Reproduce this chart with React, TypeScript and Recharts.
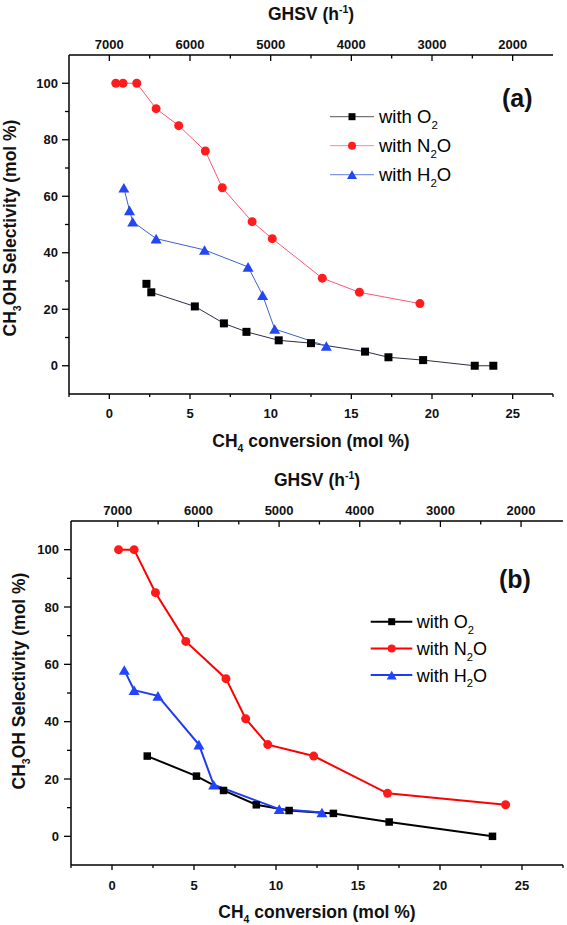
import React from 'react';
import { LineChart, Line, XAxis, YAxis, Legend } from 'recharts';

const FONT = '"Liberation Sans", Arial, Helvetica, sans-serif';

// ---------- Panel (a) data: CH4 conversion (x) vs CH3OH selectivity (y) ----------
const aO2X = [2.3, 2.6, 5.3, 7.1, 8.5, 10.5, 12.5, 15.85, 17.3, 19.45, 22.65, 23.8];
const aO2Y = [29, 26, 21, 15, 12, 9, 8, 5, 3, 2, 0, 0];
const aN2OX = [0.4, 0.85, 1.7, 2.9, 4.3, 5.95, 7.0, 8.85, 10.1, 13.2, 15.5, 19.25];
const aN2OY = [100, 100, 100, 91, 85, 76, 63, 51, 45, 31, 26, 22];
const aH2OX = [0.9, 1.25, 1.45, 2.9, 5.9, 8.6, 9.5, 10.25, 13.45];
const aH2OY = [63, 55, 51, 45, 41, 35, 25, 13, 7];

// ---------- Panel (b) data ----------
const bO2X = [2.15, 5.15, 6.8, 8.8, 10.8, 13.5, 16.9, 23.2];
const bO2Y = [28, 21, 16, 11, 9, 8, 5, 0];
const bN2OX = [0.4, 1.35, 2.65, 4.5, 6.95, 8.15, 9.5, 12.3, 16.8, 24.0];
const bN2OY = [100, 100, 85, 68, 55, 41, 32, 28, 15, 11];
const bH2OX = [0.75, 1.35, 2.8, 5.3, 6.2, 10.2, 12.8];
const bH2OY = [58, 51, 49, 32, 18, 9.5, 8.3];

// ---------- Axis ticks ----------
const convTicks = [-2.5, 0, 2.5, 5, 7.5, 10, 12.5, 15, 17.5, 20, 22.5, 25, 27.5];
const convLabels = [0, 5, 10, 15, 20, 25];
const selTicks = [0, 10, 20, 30, 40, 50, 60, 70, 80, 90, 100];
const selLabels = [0, 20, 40, 60, 80, 100];
const ghsvTicks = [2000, 2500, 3000, 3500, 4000, 4500, 5000, 5500, 6000, 6500, 7000];
const ghsvLabels = [2000, 3000, 4000, 5000, 6000, 7000];
const frameTicks = [1, 2, 3, 4, 5, 6, 7, 8, 9];

// legend labels: [before subscript, subscript, after]
const legendLabels: [string, string, string][] = [
  ['with O', '2', ''],
  ['with N', '2', 'O'],
  ['with H', '2', 'O'],
];

const zip = (xs: number[], ys: number[]) => xs.map((x, i) => ({ x, y: ys[i] }));
// invisible anchor so the top (GHSV) and right frame axes get a scale
const frameAnchor = ghsvTicks.map((g) => ({ x: g, y: 5 }));

type Shape = 'square' | 'circle' | 'triangle';

function marker(shape: Shape, cx: number, cy: number, size: number, fill: string, key?: string) {
  if (cx == null || cy == null || isNaN(cx) || isNaN(cy)) return <g key={key} />;
  if (shape === 'square')
    return <rect key={key} x={cx - size / 2} y={cy - size / 2} width={size} height={size} fill={fill} />;
  if (shape === 'circle') return <circle key={key} cx={cx} cy={cy} r={size / 2} fill={fill} />;
  const h = size * 0.87;
  return (
    <polygon
      key={key}
      points={`${cx},${cy - h / 2} ${cx - size / 2},${cy + h / 2} ${cx + size / 2},${cy + h / 2}`}
      fill={fill}
    />
  );
}

type Side = 'left' | 'right' | 'top' | 'bottom';

function tickRenderer(
  side: Side,
  labels: number[],
  major: number,
  minor: number,
  inward: boolean,
  gap: number,
  fontSize: number
) {
  return (props: any) => {
    const { x, y, payload, index } = props;
    const v = payload.value;
    const isMajor = labels.indexOf(v) >= 0;
    const len = isMajor ? major : minor;
    const d =
      side === 'left' ? [-1, 0] : side === 'right' ? [1, 0] : side === 'top' ? [0, -1] : [0, 1];
    const s = inward ? -1 : 1;
    const x2 = x + d[0] * s * len;
    const y2 = y + d[1] * s * len;
    let label = null;
    if (isMajor) {
      const off = (inward ? 0 : major) + gap;
      const tx = x + d[0] * off;
      const ty = y + d[1] * off;
      const anchor = side === 'left' ? 'end' : side === 'right' ? 'start' : 'middle';
      const dy = side === 'top' ? 0 : side === 'bottom' ? fontSize * 0.72 : fontSize * 0.36;
      label = (
        <text
          x={tx}
          y={ty}
          dy={dy}
          textAnchor={anchor}
          fontFamily={FONT}
          fontWeight="bold"
          fontSize={fontSize}
          fill="#111"
        >
          {v}
        </text>
      );
    }
    return (
      <g key={`t-${side}-${index}`}>
        <line x1={x} y1={y} x2={x2} y2={y2} stroke="#000" strokeWidth={1.3} />
        {label}
      </g>
    );
  };
}

type SeriesCfg = {
  data: { x: number; y: number }[];
  stroke: string;
  strokeWidth: number;
  shape: Shape;
  fill: string;
  size: number;
  legendStroke: string;
  legendSize: number;
};

type PanelCfg = {
  top: number;
  height: number;
  marginRight: number;
  leftW: number;
  topH: number;
  bottomH: number;
  ghsvDomain: [number, number];
  series: SeriesCfg[];
  legend: { left: number; top: number; y0: number; dy: number; lx1: number; lx2: number; mx: number; tx: number; fs: number };
  tickFs: number;
  leftGap: number;
  bottomGap: number;
  topGap: number;
  ghsvTitle: { x: number; y: number };
  convTitle: { x: number; y: number };
  selTitle: { x: number; y: number };
  tag: { x: number; y: number; text: string };
  titleFs: number;
};

function LegendBox({ cfg, series }: { cfg: PanelCfg['legend']; series: SeriesCfg[] }) {
  const fs = cfg.fs;
  return (
    <svg width={200} height={100} style={{ display: 'block', overflow: 'visible' }}>
      {series.map((s, i) => {
        const yc = cfg.y0 + i * cfg.dy;
        const lab = legendLabels[i];
        return (
          <g key={i}>
            <line x1={cfg.lx1} x2={cfg.lx2} y1={yc} y2={yc} stroke={s.legendStroke} strokeWidth={s.strokeWidth} />
            {marker(s.shape, cfg.mx, yc, s.legendSize, s.fill)}
            <text x={cfg.tx} y={yc} dy={fs * 0.36} fontSize={fs} fontFamily={FONT} fill="#000">
              {lab[0]}
              <tspan dy={fs * 0.32} fontSize={fs * 0.62}>
                {lab[1]}
              </tspan>
              {lab[2] ? (
                <tspan dy={-fs * 0.32} fontSize={fs}>
                  {lab[2]}
                </tspan>
              ) : null}
            </text>
          </g>
        );
      })}
    </svg>
  );
}

function Panel({ cfg }: { cfg: PanelCfg }) {
  const tfs = cfg.titleFs;
  return (
    <div style={{ position: 'absolute', left: 0, top: cfg.top, width: 567, height: cfg.height }}>
      <LineChart
        width={567}
        height={cfg.height}
        margin={{ top: 0, right: cfg.marginRight, bottom: 0, left: 0 }}
      >
        <XAxis
          xAxisId="b"
          dataKey="x"
          type="number"
          domain={[-2.5, 27.5]}
          ticks={convTicks}
          interval={0}
          allowDataOverflow
          height={cfg.bottomH}
          tickSize={0}
          tickMargin={0}
          tickLine={false}
          axisLine={{ stroke: '#000', strokeWidth: 1.5 }}
          tick={tickRenderer('bottom', convLabels, 5, 3, false, cfg.bottomGap, cfg.tickFs)}
        />
        <XAxis
          xAxisId="t"
          dataKey="x"
          orientation="top"
          type="number"
          domain={cfg.ghsvDomain}
          reversed
          ticks={ghsvTicks}
          interval={0}
          allowDataOverflow
          height={cfg.topH}
          tickSize={0}
          tickMargin={0}
          tickLine={false}
          axisLine={{ stroke: '#000', strokeWidth: 1.5 }}
          tick={tickRenderer('top', ghsvLabels, 6, 3.5, true, cfg.topGap, cfg.tickFs)}
        />
        <YAxis
          yAxisId="l"
          type="number"
          domain={[-10, 110]}
          ticks={selTicks}
          interval={0}
          allowDataOverflow
          width={cfg.leftW}
          tickSize={0}
          tickMargin={0}
          tickLine={false}
          axisLine={{ stroke: '#000', strokeWidth: 1.5 }}
          tick={tickRenderer('left', selLabels, 7, 4, false, cfg.leftGap, cfg.tickFs)}
        />
        <YAxis
          yAxisId="r"
          orientation="right"
          type="number"
          domain={[0, 10]}
          ticks={frameTicks}
          interval={0}
          allowDataOverflow
          width={0}
          tickSize={0}
          tickMargin={0}
          tickLine={false}
          axisLine={{ stroke: '#000', strokeWidth: 1.5 }}
          tick={tickRenderer('right', [], 5, 5, true, 0, cfg.tickFs)}
        />
        <Line
          xAxisId="t"
          yAxisId="r"
          data={frameAnchor}
          dataKey="y"
          stroke="none"
          dot={false}
          activeDot={false}
          isAnimationActive={false}
          legendType="none"
        />
        {cfg.series.map((s, i) => (
          <Line
            key={i}
            xAxisId="b"
            yAxisId="l"
            data={s.data}
            dataKey="y"
            type="linear"
            stroke={s.stroke}
            strokeWidth={s.strokeWidth}
            dot={(p: any) => marker(s.shape, p.cx, p.cy, s.size, s.fill, `d-${i}-${p.index}`)}
            activeDot={false}
            isAnimationActive={false}
            legendType="none"
          />
        ))}
        <Legend
          layout="vertical"
          align="center"
          verticalAlign="middle"
          wrapperStyle={{ left: cfg.legend.left, top: cfg.legend.top, width: 200, height: 100 }}
          content={() => <LegendBox cfg={cfg.legend} series={cfg.series} />}
        />
      </LineChart>
      <svg
        width={567}
        height={cfg.height}
        style={{ position: 'absolute', left: 0, top: 0, pointerEvents: 'none' }}
      >
        <text
          x={cfg.ghsvTitle.x}
          y={cfg.ghsvTitle.y}
          textAnchor="middle"
          fontFamily={FONT}
          fontWeight="bold"
          fontSize={tfs}
          fill="#111"
        >
          GHSV (h
          <tspan dy={-tfs * 0.38} fontSize={tfs * 0.6}>
            -1
          </tspan>
          <tspan dy={tfs * 0.38} fontSize={tfs}>
            )
          </tspan>
        </text>
        <text
          x={cfg.convTitle.x}
          y={cfg.convTitle.y}
          textAnchor="middle"
          fontFamily={FONT}
          fontWeight="bold"
          fontSize={tfs}
          fill="#111"
        >
          CH
          <tspan dy={tfs * 0.3} fontSize={tfs * 0.6}>
            4
          </tspan>
          <tspan dy={-tfs * 0.3} fontSize={tfs}>
            {' conversion (mol %)'}
          </tspan>
        </text>
        <text
          x={cfg.selTitle.x}
          y={cfg.selTitle.y}
          transform={`rotate(-90 ${cfg.selTitle.x} ${cfg.selTitle.y})`}
          textAnchor="middle"
          fontFamily={FONT}
          fontWeight="bold"
          fontSize={tfs}
          fill="#111"
        >
          CH
          <tspan dy={tfs * 0.3} fontSize={tfs * 0.6}>
            3
          </tspan>
          <tspan dy={-tfs * 0.3} fontSize={tfs}>
            {'OH Selectivity (mol %)'}
          </tspan>
        </text>
        <text
          x={cfg.tag.x}
          y={cfg.tag.y}
          fontFamily={FONT}
          fontWeight="bold"
          fontSize={25}
          fill="#111"
        >
          {cfg.tag.text}
        </text>
      </svg>
    </div>
  );
}

const panelA: PanelCfg = {
  top: 0,
  height: 460,
  marginRight: 14,
  leftW: 69,
  topH: 55,
  bottomH: 66,
  ghsvDomain: [1500, 7500],
  series: [
    { data: zip(aO2X, aO2Y), stroke: '#2c2c48', strokeWidth: 1, shape: 'square', fill: '#000', size: 8, legendStroke: '#555', legendSize: 7 },
    { data: zip(aN2OX, aN2OY), stroke: '#ff5577', strokeWidth: 1, shape: 'circle', fill: '#ff1c1c', size: 9, legendStroke: '#ff7f99', legendSize: 8 },
    { data: zip(aH2OX, aH2OY), stroke: '#3f60d0', strokeWidth: 1, shape: 'triangle', fill: '#2347f0', size: 11, legendStroke: '#6080dd', legendSize: 10 },
  ],
  legend: { left: 325, top: 102, y0: 14.7, dy: 29, lx1: 5, lx2: 49, mx: 27, tx: 54, fs: 18.5 },
  tickFs: 13,
  leftGap: 4,
  bottomGap: 10,
  topGap: 6,
  ghsvTitle: { x: 311, y: 20 },
  convTitle: { x: 311, y: 446.5 },
  selTitle: { x: 16, y: 228 },
  tag: { x: 502, y: 107, text: '(a)' },
  titleFs: 17.5,
};

const panelB: PanelCfg = {
  top: 460,
  height: 465,
  marginRight: 4,
  leftW: 71,
  topH: 61,
  bottomH: 60,
  ghsvDomain: [1480, 7580],
  series: [
    { data: zip(bO2X, bO2Y), stroke: '#000', strokeWidth: 2, shape: 'square', fill: '#000', size: 7.5, legendStroke: '#000', legendSize: 7 },
    { data: zip(bN2OX, bN2OY), stroke: '#ff0000', strokeWidth: 2, shape: 'circle', fill: '#ff1a1a', size: 9, legendStroke: '#ff0000', legendSize: 8 },
    { data: zip(bH2OX, bH2OY), stroke: '#1f3cf0', strokeWidth: 2, shape: 'triangle', fill: '#2244ff', size: 11, legendStroke: '#1f3cf0', legendSize: 10 },
  ],
  legend: { left: 365, top: 148, y0: 13.7, dy: 26.7, lx1: 5.7, lx2: 47.3, mx: 26.7, tx: 51.7, fs: 18 },
  tickFs: 13,
  leftGap: 5,
  bottomGap: 10.5,
  topGap: 6,
  ghsvTitle: { x: 317, y: 26 },
  convTitle: { x: 317, y: 457.5 },
  selTitle: { x: 25, y: 221 },
  tag: { x: 499, y: 127.6, text: '(b)' },
  titleFs: 17.5,
};

export default function App() {
  return (
    <div style={{ position: 'absolute', left: 0, top: 0, width: 567, height: 925, background: '#fff' }}>
      <Panel cfg={panelA} />
      <Panel cfg={panelB} />
    </div>
  );
}
